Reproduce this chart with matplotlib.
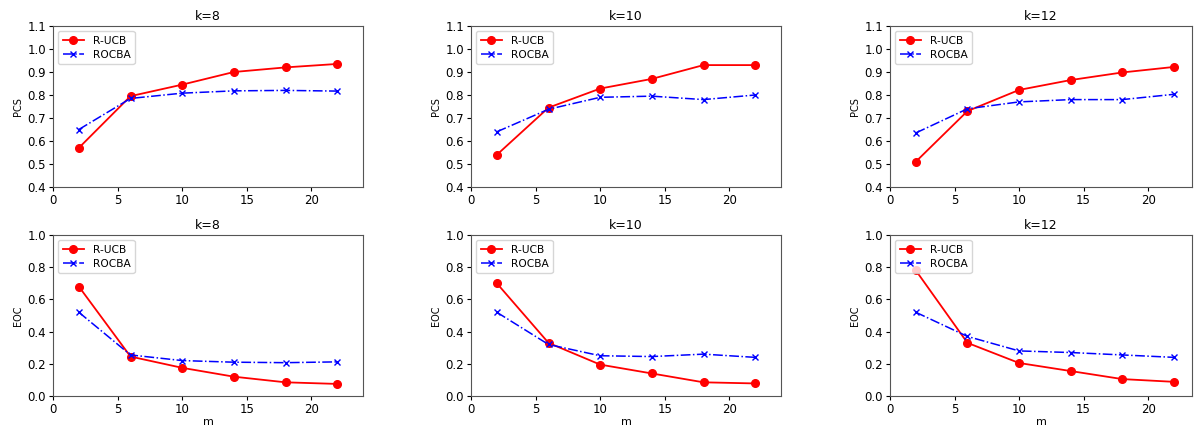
import matplotlib.pyplot as plt

m = [2, 6, 10, 14, 18, 22]
ks = [8, 10, 12]

pcs_rucb = {
    8: [0.57, 0.795, 0.845, 0.90, 0.92, 0.935],
    10: [0.54, 0.745, 0.828, 0.87, 0.93, 0.93],
    12: [0.51, 0.73, 0.822, 0.865, 0.898, 0.922],
}
pcs_rocba = {
    8: [0.65, 0.785, 0.808, 0.818, 0.82, 0.817],
    10: [0.64, 0.738, 0.79, 0.795, 0.78, 0.80],
    12: [0.635, 0.74, 0.77, 0.78, 0.78, 0.803],
}
eoc_rucb = {
    8: [0.68, 0.245, 0.175, 0.12, 0.085, 0.075],
    10: [0.70, 0.33, 0.195, 0.14, 0.085, 0.078],
    12: [0.78, 0.33, 0.205, 0.155, 0.105, 0.088],
}
eoc_rocba = {
    8: [0.52, 0.255, 0.22, 0.21, 0.207, 0.212],
    10: [0.52, 0.32, 0.25, 0.245, 0.26, 0.24],
    12: [0.52, 0.37, 0.28, 0.27, 0.255, 0.24],
}

W, H = 1194, 432
fig = plt.figure(figsize=(W / 100, H / 100), dpi=100)

lefts = [53, 471, 890]
widths = [310, 310, 302]
xmax = [24, 24, 23.4]
ax_h = 161


def draw(ax, k, y1, y2, ylabel, ylim, xlabel):
    ax.plot(m, y1, 'r-o', lw=1.3, ms=5.5, label='R-UCB')
    ax.plot(m, y2, 'b-.x', lw=1.1, ms=5, label='ROCBA')
    ax.set_title('k=%d' % k, fontsize=9, pad=4)
    ax.set_ylabel(ylabel, fontsize=7, labelpad=3)
    if xlabel:
        ax.set_xlabel(xlabel, fontsize=8, labelpad=1)
    ax.set_ylim(*ylim)
    ax.tick_params(labelsize=8.5, length=3, pad=2)
    for s in ax.spines.values():
        s.set_color('#555555')
    ax.legend(loc='upper left', fontsize=7.7, handlelength=2, borderpad=0.4,
              labelspacing=0.4, framealpha=0.8)


for i, k in enumerate(ks):
    l = lefts[i] / W
    w = widths[i] / W
    ax = fig.add_axes([l, 1 - 187 / H, w, ax_h / H])
    draw(ax, k, pcs_rucb[k], pcs_rocba[k], 'PCS', (0.4, 1.1), None)
    ax.set_xlim(0, xmax[i])
    ax.set_yticks([0.4, 0.5, 0.6, 0.7, 0.8, 0.9, 1.0, 1.1])

    ax = fig.add_axes([l, 1 - 396 / H, w, ax_h / H])
    draw(ax, k, eoc_rucb[k], eoc_rocba[k], 'EOC', (0.0, 1.0), 'm')
    ax.set_xlim(0, xmax[i])

fig.savefig('out.png', dpi=100)
